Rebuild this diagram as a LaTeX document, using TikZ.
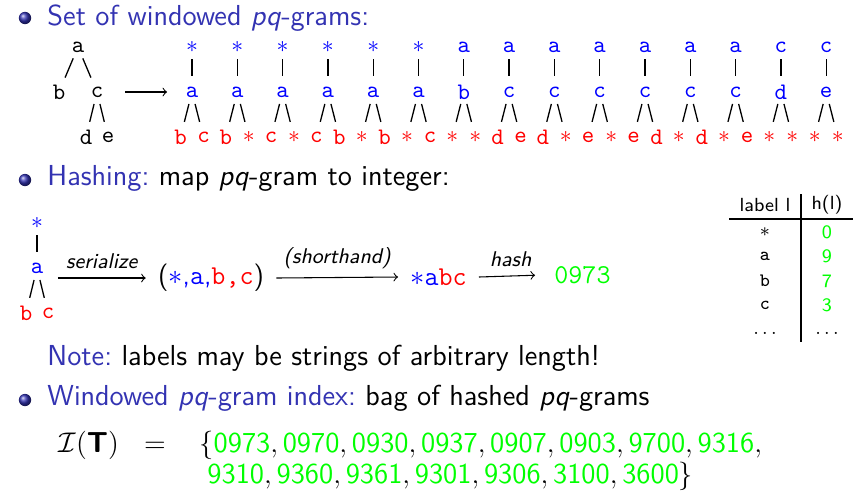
\documentclass[tikz,border=0pt]{standalone}
\usepackage{xcolor}
\definecolor{struct}{rgb}{0.2,0.2,0.7}
\definecolor{lblue}{RGB}{0,0,255}
\definecolor{lred}{RGB}{255,0,0}
\definecolor{hgreen}{RGB}{0,255,0}
\newcommand{\st}{$\ast$}
\newcommand{\hn}[1]{\textcolor{hgreen}{\textsf{#1}}}
\newcommand{\pq}{\textit{pq}}
\tikzset{x=0.422pt, y=-0.422pt, every node/.append style={font=\sffamily\fontsize{12.2}{14.5}\selectfont},
  txt/.style={anchor=base west, inner sep=0pt},
  lab/.style={font=\ttfamily\fontsize{10}{12}\selectfont, inner sep=0pt},
  edge/.style={line width=0.55pt, shorten <=5.2pt, shorten >=6.6pt},
  mapto/.style={->, line width=0.45pt},
  arr/.style={font=\sffamily\itshape\fontsize{9}{10}\selectfont, above, inner sep=3.5pt},
  ser/.style={font=\sffamily\fontsize{11.5}{13}\selectfont, inner sep=5pt},
  tab/.style={font=\sffamily\fontsize{8}{9}\selectfont, inner sep=0pt}}

\begin{document}
\begin{tikzpicture}
\useasboundingbox (0,0) rectangle (859,492);
\foreach \y in {18,180,400}
    \shade[ball color=struct] (25,\y) circle (2.6pt);
\node[txt] (set) at (47,25) {\color{struct}Set of windowed \pq-grams:};
\node[lab] (ta) at (78,47) {a};
\node[lab] (tb) at (59,92) {b};
\node[lab] (tc) at (97,92) {c};
\node[lab] (td) at (86,137) {d};
\node[lab] (te) at (108,137) {e};
\draw[edge] (ta.center) -- (tb.center);
\draw[edge] (ta.center) -- (tc.center);
\draw[edge] (tc.center) -- (td.center);
\draw[edge] (tc.center) -- (te.center);
\foreach \u/\v/\l/\r [count=\i from 0] in {\st/a/b/c, \st/a/b/\st, \st/a/c/\st, \st/a/c/b, \st/a/\st/b,
        \st/a/\st/c, a/b/\st/\st, a/c/d/e, a/c/d/\st, a/c/e/\st, a/c/e/d, a/c/\st/d, a/c/\st/e,
        c/d/\st/\st, c/e/\st/\st} {
    \node[lab, lblue] (u\i) at (192+45.3*\i,47) {\u};
    \node[lab, lblue] (v\i) at (192+45.3*\i,92) {\v};
    \node[lab, lred] (l\i) at (180.5+45.3*\i,137) {\l};
    \node[lab, lred] (r\i) at (203.5+45.3*\i,137) {\r};
    \draw[edge] (u\i.center) -- (v\i.center);
    \draw[edge] (v\i.center) -- (l\i.center);
    \draw[edge] (v\i.center) -- (r\i.center);
}
\draw[->, line width=0.45pt, shorten <=12pt, shorten >=10.5pt] (tc.center) -- (v0.center);

\node[txt] (hsh) at (47,185) {\color{struct}Hashing:\ \color{black}map \pq-gram to integer:};
\node[lab, lblue] (hs) at (37,223) {\st};
\node[lab, lblue] (ha) at (37,268) {a};
\node[lab, lred] (hb) at (26,313) {b};
\node[lab, lred] (hc) at (48,313) {c};
\draw[edge] (hs.center) -- (ha.center);
\draw[edge] (ha.center) -- (hb.center);
\draw[edge] (ha.center) -- (hc.center);
\node[ser] (tuple) at (211,278)
    {(\textcolor{lblue}{\st,\texttt{a},}\textcolor{lred}{\texttt{b,c}})};
\node[ser] (short) at (438.5,277)
    {\textcolor{lblue}{\st\texttt{a}}\textcolor{lred}{\texttt{bc}}};
\node[ser, hgreen] (hval) at (582.5,275) {\texttt{0973}};
\draw[mapto] ([xshift=6pt]ha.east |- tuple.west) -- node[arr] {serialize} (tuple.west);
\draw[mapto] (tuple.east) -- node[arr] {(\textit{shorthand})} (short.west);
\draw[mapto, shorten >=3pt] (short.east) -- node[arr] {hash} (hval.west);

\node[tab] (th1) at (765,205) {label l};
\node[tab] (th2) at (827,205) {h(l)};
\foreach \k/\h [count=\j from 0] in {\st/0, \texttt{a}/9, \texttt{b}/7, \texttt{c}/3} {
    \node[tab] (k\j) at (765,232+24.5*\j) {\k};
    \node[tab, hgreen] (h\j) at (827,232+24.5*\j) {\h};
}
\node[tab] (kd) at (765,333) {$\dots$};
\node[tab] (hd) at (827,333) {$\dots$};
\draw[line width=0.5pt] (801,194) -- (801,342);
\draw[line width=0.5pt] (729,219) -- (853,219);

\node[txt] (note) at (47,365) {\color{struct}Note:\ \color{black}labels may be strings of arbitrary length!};
\node[txt] (win) at (47,405) {\color{struct}Windowed \pq-gram index:\ \color{black}bag of hashed \pq-grams};
\node[txt] (it) at (58,452) {$\mathcal{I}(\mbox{\bfseries T})$};
\node[anchor=base, inner sep=0pt] (eq) at (155,452) {$=$};
\node[txt] (s1) at (199,452) {$\{\hn{0973},\hn{0970},\hn{0930},\hn{0937},\hn{0907},\hn{0903},\hn{9700},\hn{9316},$};
\node[txt] (s2) at (207,483) {$\hn{9310},\hn{9360},\hn{9361},\hn{9301},\hn{9306},\hn{3100},\hn{3600}\}$};
\end{tikzpicture}
\end{document}
